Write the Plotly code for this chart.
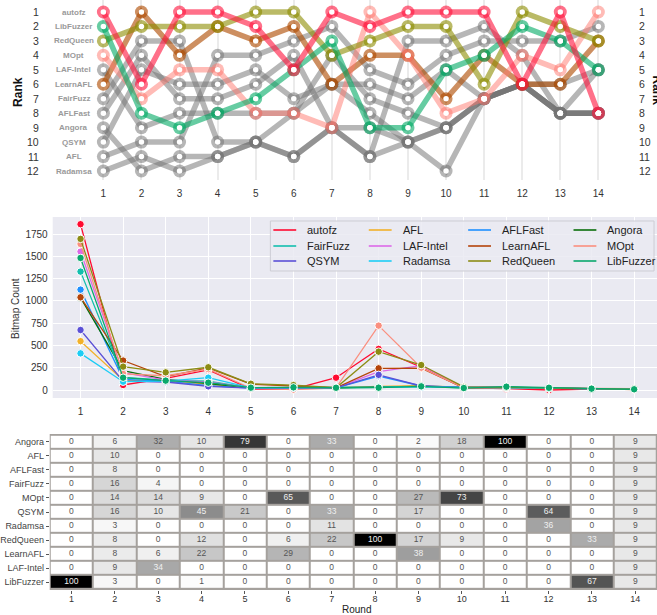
import plotly.graph_objects as go

W, H = 657, 615
FONT = "Liberation Sans, Arial, sans-serif"

rounds = list(range(1, 15))

# ---------------- panel 1: rank of each fuzzer per round ----------------
rank_names = ["autofz", "LibFuzzer", "RedQueen", "MOpt", "LAF-Intel", "LearnAFL",
              "FairFuzz", "AFLFast", "Angora", "QSYM", "AFL", "Radamsa"]
rank_ticks = list(range(1, 13))
rank_autofz    = [1, 6, 1, 1, 2, 5, 1, 2, 1, 1, 1, 6, 1, 8]
rank_libfuzzer = [2, 8, 9, 8, 7, 5, 3, 9, 9, 5, 4, 2, 3, 5]
rank_redqueen  = [3, 2, 2, 2, 1, 1, 4, 3, 2, 2, 6, 1, 2, 3]
rank_mopt      = [4, 7, 5, 5, 8, 8, 9, 1, 4, 8, 7, 4, 5, 1]
rank_learnafl  = [6, 1, 4, 2, 3, 2, 6, 4, 4, 7, 4, 6, 6, 3]
rank_lafintel  = [5, 9, 8, 8, 8, 8, 6, 8, 10, 9, 7, 6, 8, 8]
rank_fairfuzz  = [7, 3, 3, 10, 10, 8, 4, 7, 8, 9, 7, 6, 8, 8]
rank_aflfast   = [8, 4, 7, 7, 6, 4, 9, 9, 10, 9, 7, 6, 8, 8]
rank_angora    = [9, 12, 11, 11, 10, 11, 9, 11, 3, 3, 2, 4, 8, 5]
rank_qsym      = [10, 5, 6, 6, 5, 7, 6, 6, 7, 5, 7, 6, 6, 5]
rank_afl       = [11, 10, 10, 4, 4, 3, 2, 5, 6, 4, 3, 3, 3, 2]
rank_radamsa   = [12, 11, 12, 11, 10, 11, 9, 11, 10, 12, 7, 6, 8, 8]

# ---------------- panel 2: bitmap count per round ----------------
bitmap_autofz    = [1860, 56, 130, 225, 10, 10, 138, 460, 255, 25, 15, 0, 10, 10]
bitmap_afl       = [548, 110, 100, 60, 25, 25, 25, 40, 50, 30, 30, 20, 15, 10]
bitmap_aflfast   = [1126, 120, 100, 50, 20, 25, 25, 157, 45, 30, 30, 20, 15, 10]
bitmap_angora    = [1036, 217, 120, 75, 25, 25, 25, 35, 40, 30, 25, 20, 15, 10]
bitmap_fairfuzz  = [1328, 140, 110, 100, 25, 25, 25, 30, 40, 25, 35, 20, 15, 10]
bitmap_lafintel  = [1552, 195, 110, 90, 25, 25, 25, 206, 273, 30, 30, 20, 15, 10]
bitmap_learnafl  = [1040, 330, 150, 247, 65, 45, 25, 243, 245, 25, 25, 20, 15, 5]
bitmap_mopt      = [1638, 180, 160, 235, 20, 5, 25, 722, 250, 25, 25, 20, 15, 15]
bitmap_qsym      = [673, 100, 90, 41, 20, 25, 25, 170, 45, 30, 30, 20, 15, 10]
bitmap_radamsa   = [411, 93, 100, 138, 25, 25, 25, 30, 35, 30, 30, 20, 15, 10]
bitmap_redqueen  = [1695, 262, 198, 255, 70, 55, 25, 430, 280, 35, 30, 20, 15, 10]
bitmap_libfuzzer = [1481, 138, 105, 82, 26, 30, 25, 26, 41, 22, 37, 25, 15, 8]
bitmap_ticks = [0, 250, 500, 750, 1000, 1250, 1500, 1750]

# ---------------- panel 3: allocation per round (%) ----------------
heat_rows = ["Angora", "AFL", "AFLFast", "FairFuzz", "MOpt", "QSYM",
             "Radamsa", "RedQueen", "LearnAFL", "LAF-Intel", "LibFuzzer"]
alloc_angora    = [0, 6, 32, 10, 79, 0, 33, 0, 2, 18, 100, 0, 0, 9]
alloc_afl       = [0, 10, 0, 0, 0, 0, 0, 0, 0, 0, 0, 0, 0, 9]
alloc_aflfast   = [0, 8, 0, 0, 0, 0, 0, 0, 0, 0, 0, 0, 0, 9]
alloc_fairfuzz  = [0, 16, 4, 0, 0, 0, 0, 0, 0, 0, 0, 0, 0, 9]
alloc_mopt      = [0, 14, 14, 9, 0, 65, 0, 0, 27, 73, 0, 0, 0, 9]
alloc_qsym      = [0, 16, 10, 45, 21, 0, 33, 0, 17, 0, 0, 64, 0, 9]
alloc_radamsa   = [0, 3, 0, 0, 0, 0, 11, 0, 0, 0, 0, 36, 0, 9]
alloc_redqueen  = [0, 8, 0, 12, 0, 6, 22, 100, 17, 9, 0, 0, 33, 9]
alloc_learnafl  = [0, 8, 6, 22, 0, 29, 0, 0, 38, 0, 0, 0, 0, 9]
alloc_lafintel  = [0, 9, 34, 0, 0, 0, 0, 0, 0, 0, 0, 0, 0, 9]
alloc_libfuzzer = [100, 3, 0, 1, 0, 0, 0, 0, 0, 0, 0, 0, 67, 9]

fig = go.Figure()

# ---- panel 1 traces ----
GRAY = "rgba(115,115,115,0.52)"
bump_series = [
    ("LAF-Intel", rank_lafintel, GRAY),
    ("FairFuzz", rank_fairfuzz, GRAY),
    ("AFLFast", rank_aflfast, GRAY),
    ("Angora", rank_angora, GRAY),
    ("QSYM", rank_qsym, GRAY),
    ("AFL", rank_afl, GRAY),
    ("Radamsa", rank_radamsa, GRAY),
    ("LearnAFL", rank_learnafl, "rgba(175,75,0,0.62)"),
    ("MOpt", rank_mopt, "rgba(255,120,110,0.5)"),
    ("RedQueen", rank_redqueen, "rgba(140,140,0,0.6)"),
    ("LibFuzzer", rank_libfuzzer, "rgba(0,170,100,0.6)"),
    ("autofz", rank_autofz, "rgba(255,25,65,0.62)"),
]
for name, r, c in bump_series:
    fig.add_trace(go.Scatter(
        x=rounds, y=r, mode="lines+markers", name=name,
        line=dict(color=c, width=5.5),
        marker=dict(size=13, color=c, line=dict(width=0)),
        showlegend=False, hoverinfo="skip", xaxis="x", yaxis="y"))
all_x = []
all_y = []
for _, r, _ in bump_series:
    all_x += rounds
    all_y += r
fig.add_trace(go.Scatter(
    x=all_x, y=all_y, mode="markers",
    marker=dict(size=5.5, color="white", line=dict(width=0)),
    showlegend=False, hoverinfo="skip", xaxis="x", yaxis="y"))

# ---- panel 2 traces ----
line_series = [
    ("autofz", bitmap_autofz, "#ff0a30"),
    ("AFL", bitmap_afl, "#f2b12a"),
    ("AFLFast", bitmap_aflfast, "#1e90ff"),
    ("Angora", bitmap_angora, "#0b6e0b"),
    ("FairFuzz", bitmap_fairfuzz, "#13bfae"),
    ("LAF-Intel", bitmap_lafintel, "#dc6ae8"),
    ("LearnAFL", bitmap_learnafl, "#b5440a"),
    ("MOpt", bitmap_mopt, "#fa8f7f"),
    ("QSYM", bitmap_qsym, "#5b50d6"),
    ("Radamsa", bitmap_radamsa, "#1ccdf5"),
    ("RedQueen", bitmap_redqueen, "#8c8c14"),
    ("LibFuzzer", bitmap_libfuzzer, "#0aa86c"),
]
for name, v, c in line_series:
    fig.add_trace(go.Scatter(
        x=rounds, y=v, mode="lines+markers", name=name,
        line=dict(color=c, width=1.3),
        marker=dict(size=7.5, color=c, line=dict(color="white", width=1)),
        showlegend=False, xaxis="x2", yaxis="y2", hoverinfo="skip"))

# ---- panel 3 traces ----
alloc_rows = [alloc_angora, alloc_afl, alloc_aflfast, alloc_fairfuzz, alloc_mopt,
              alloc_qsym, alloc_radamsa, alloc_redqueen, alloc_learnafl,
              alloc_lafintel, alloc_libfuzzer]
fig.add_trace(go.Heatmap(
    x=rounds, y=heat_rows, z=alloc_rows, zmin=0, zmax=100,
    colorscale=[[0, "white"], [1, "black"]], showscale=False,
    xgap=2, ygap=2, xaxis="x3", yaxis="y3", hoverinfo="skip"))
tx, ty, tt, tc = [], [], [], []
for name, row in zip(heat_rows, alloc_rows):
    for rd, v in zip(rounds, row):
        tx.append(rd)
        ty.append(name)
        tt.append(str(v))
        tc.append("#f0f0f0" if v > 32 else "#555555")
fig.add_trace(go.Scatter(
    x=tx, y=ty, text=tt, mode="text", textfont=dict(size=8.5, color=tc, family=FONT),
    showlegend=False, hoverinfo="skip", xaxis="x3", yaxis="y3"))

# ---- geometry (pixels -> paper) ----
def py(p):
    return 1 - p / H

x1_l, x1_r = 85, 613
ux1 = (598 - 100) / 13
uy1 = (171 - 12) / 11
x2_l, x2_r = 49, 657
ux2 = (634 - 77) / 13
uy2 = (390 - 234) / 1750
y2_t, y2_b = 217, 398

annotations = []
for r, nm in zip(rank_ticks, rank_names):
    annotations.append(dict(x=70 / W, xref="paper", y=r, yref="y", text="<b>" + nm + "</b>",
                            showarrow=False, xanchor="center", yanchor="middle",
                            font=dict(size=8, color="#9a9a9a", family=FONT)))
    annotations.append(dict(x=37 / W, xref="paper", y=r, yref="y", text=str(r),
                            showarrow=False, xanchor="right", yanchor="middle",
                            font=dict(size=10.5, color="#333", family=FONT)))
    annotations.append(dict(x=637 / W, xref="paper", y=r, yref="y", text=str(r),
                            showarrow=False, xanchor="left", yanchor="middle",
                            font=dict(size=10.5, color="#333", family=FONT)))
annotations += [
    dict(x=14 / W, y=py(92), xref="paper", yref="paper", text="<b>Rank</b>", textangle=-90,
         showarrow=False, xanchor="center", yanchor="middle",
         font=dict(size=12, color="#111", family=FONT)),
    dict(x=657.5 / W, y=py(91), xref="paper", yref="paper", text="<b>Rank</b>", textangle=90,
         showarrow=False, xanchor="center", yanchor="middle",
         font=dict(size=12, color="#111", family=FONT)),
    dict(x=11 / W, y=py(308), xref="paper", yref="paper", text="Bitmap Count", textangle=-90,
         showarrow=False, xanchor="center", yanchor="middle",
         font=dict(size=10, color="#333", family=FONT)),
    dict(x=355 / W, y=py(609), xref="paper", yref="paper", text="Round",
         showarrow=False, xanchor="center", yanchor="middle",
         font=dict(size=10, color="#222", family=FONT)),
]

shapes = [
    dict(type="rect", xref="x2 domain", yref="y2 domain", x0=0, x1=1, y0=0, y1=1,
         fillcolor="#eaeaf2", line=dict(width=0), layer="below"),
    dict(type="rect", xref="x3 domain", yref="y3 domain", x0=0, x1=1, y0=0, y1=1,
         fillcolor="#a5a19d", line=dict(width=0), layer="below"),
    dict(type="rect", xref="paper", yref="paper", x0=268 / W, x1=654 / W, y0=py(271), y1=py(221),
         fillcolor="rgba(234,234,242,0.85)", line=dict(color="#cdcdd4", width=1), layer="above"),
]

# legend (4 columns x 3 rows, filled row by row like the reference)
leg_col_x = [271, 367, 467, 573]
leg_row_y = [230, 246, 261]
for i, (name, v, c) in enumerate(line_series):
    cx = leg_col_x[i % 4]
    ry = leg_row_y[i // 4]
    shapes.append(dict(type="line", xref="paper", yref="paper",
                       x0=cx / W, x1=(cx + 23) / W, y0=py(ry), y1=py(ry),
                       line=dict(color=c, width=1.6), layer="above"))
    annotations.append(dict(x=(cx + 32) / W, y=py(ry), xref="paper", yref="paper",
                            text=name, showarrow=False, xanchor="left", yanchor="middle",
                            font=dict(size=11, color="#222", family=FONT)))

fig.update_layout(
    width=W, height=H, margin=dict(l=0, r=0, t=0, b=0),
    paper_bgcolor="white", plot_bgcolor="white",
    font=dict(family=FONT, color="#333"),
    showlegend=False,
    xaxis=dict(domain=[x1_l / W, x1_r / W], anchor="y",
               range=[1 - (100 - x1_l) / ux1, 14 + (x1_r - 598) / ux1],
               tickvals=rounds, showgrid=True, gridcolor="#ebebeb", gridwidth=2,
               zeroline=False, showline=False, ticks="", ticklabelstandoff=6,
               tickfont=dict(size=10, color="#333")),
    yaxis=dict(domain=[py(180), 1], anchor="x",
               range=[12 + (180 - 171) / uy1, 1 - 12 / uy1],
               showgrid=False, zeroline=False, showticklabels=False, ticks=""),
    xaxis2=dict(domain=[x2_l / W, x2_r / W], anchor="y2",
                range=[1 - (77 - x2_l) / ux2, 14 + (x2_r - 634) / ux2],
                tickvals=rounds, showgrid=True, gridcolor="white", gridwidth=1.2,
                zeroline=False, showline=False, ticks="", ticklabelstandoff=6,
                tickfont=dict(size=10, color="#333")),
    yaxis2=dict(domain=[py(y2_b), py(y2_t)], anchor="x2",
                range=[-(y2_b - 390) / uy2, (390 - y2_t) / uy2],
                tickvals=bitmap_ticks, showgrid=True, gridcolor="white", gridwidth=1.2,
                zeroline=False, showline=False, ticks="", ticklabelstandoff=4,
                tickfont=dict(size=10, color="#333")),
    xaxis3=dict(domain=[46 / W, 1.0], anchor="y3", range=[0.5, 14.5],
                tickvals=rounds, showgrid=False, zeroline=False, showline=False,
                ticks="outside", ticklen=3, tickcolor="#555", ticklabelstandoff=-3,
                tickfont=dict(size=9, color="#333")),
    yaxis3=dict(domain=[py(590), py(434)], anchor="x3", type="category",
                categoryorder="array", categoryarray=heat_rows, autorange="reversed",
                showgrid=False, zeroline=False, showline=False,
                ticks="outside", ticklen=3, tickcolor="#555",
                tickfont=dict(size=9, color="#444")),
    annotations=annotations,
    shapes=shapes,
)

fig.write_html("out.html", config={"displayModeBar": False},
               post_script="document.body.style.margin='0px';")
